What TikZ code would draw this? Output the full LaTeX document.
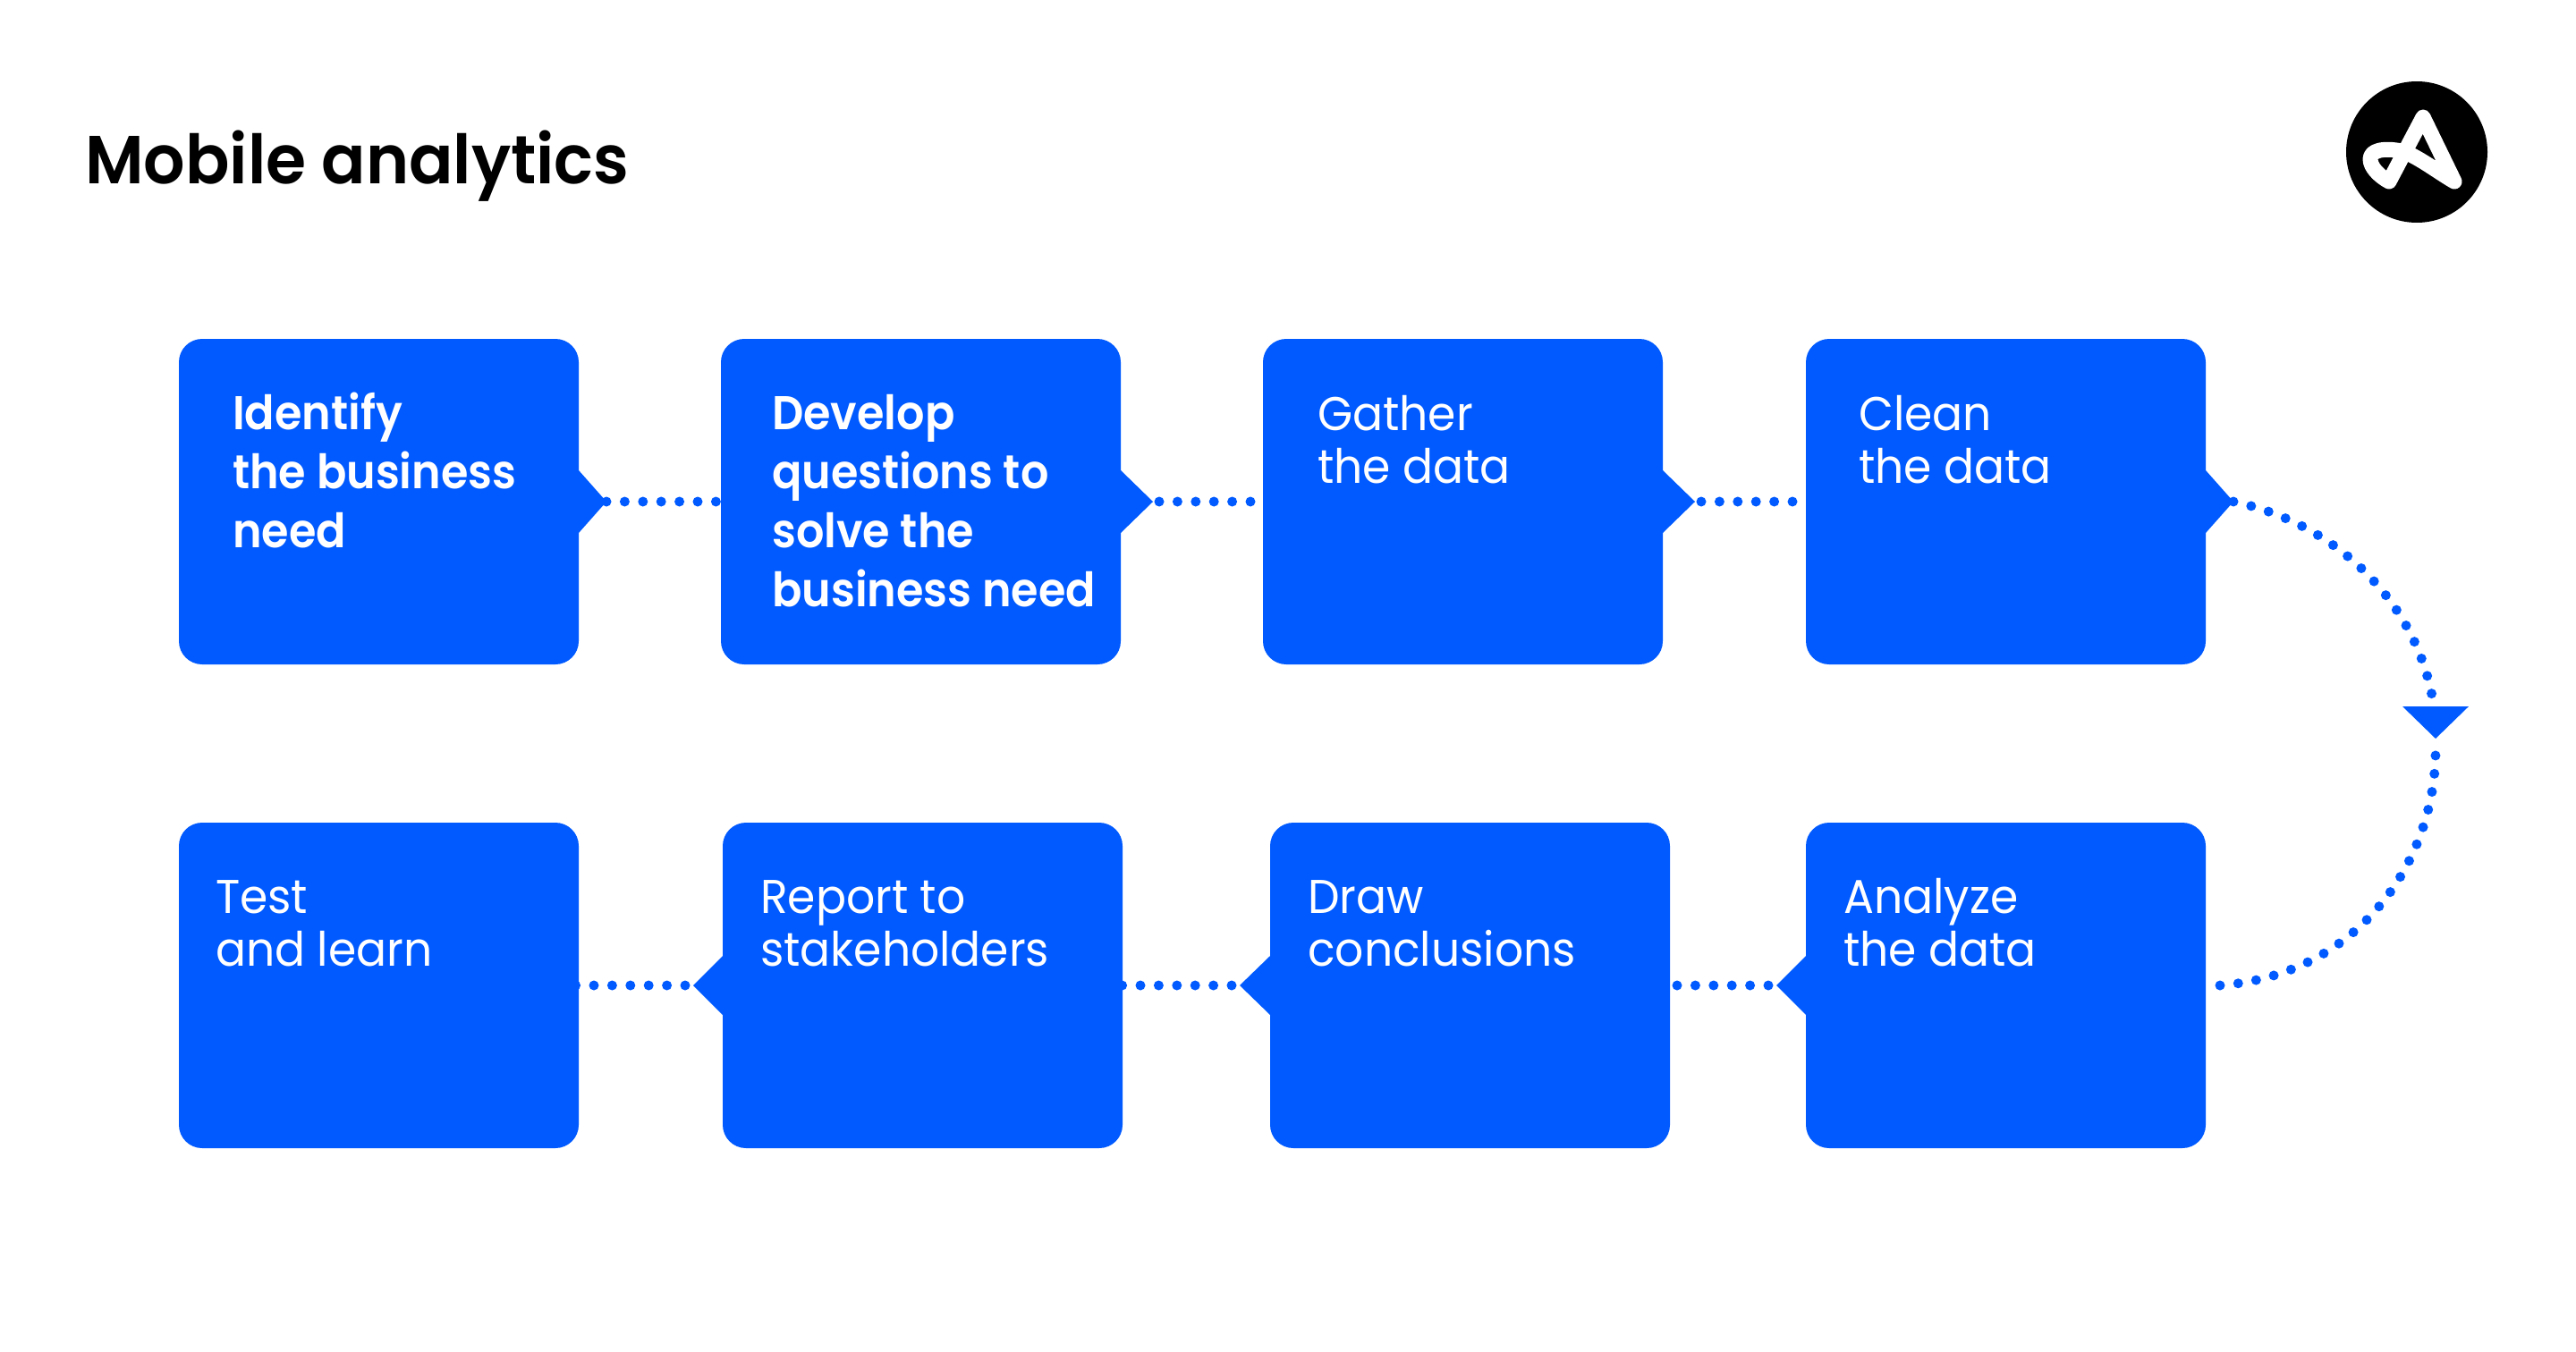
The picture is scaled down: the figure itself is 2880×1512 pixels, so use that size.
\documentclass[tikz,border=0pt]{standalone}
\usepackage{fontspec}
\setmainfont{Poppins}[FakeStretch=0.95]
\newfontfamily\regf{Poppins}[FakeStretch=0.95]
\newfontfamily\boldf{Poppins SemiBold}[FakeStretch=0.93]
\newfontfamily\titlef{Poppins SemiBold}[FakeStretch=0.96]
\definecolor{brand}{HTML}{005AFF}
\tikzset{
  box/.style={fill=brand,rounded corners=26pt,minimum width=447pt,minimum height=364pt,inner sep=0pt,outer sep=0pt,anchor=north west},
  ptr/.style={fill=brand},
  dots/.style={brand,line width=11pt,line cap=round,dash pattern=on 0pt off 20.4pt},
  reg/.style={text=white,inner sep=0pt,anchor=north west,align=left,font=\fontsize{53}{59}\regf\selectfont},
  bld/.style={text=white,inner sep=0pt,anchor=north west,align=left,font=\fontsize{53}{66}\boldf\selectfont},
}
\newcommand{\up}{\rule{0pt}{60pt}}
\begin{document}
\begin{tikzpicture}[x=1pt,y=-1pt]
\useasboundingbox (0,0) rectangle (2880,1512);
\fill[white] (0,0) rectangle (2880,1512);
\node[text=black,inner sep=0pt,anchor=north west,font=\fontsize{76}{80}\titlef\selectfont] (title) at (95,145) {\up Mobile analytics};
% logo
\node[circle,fill=black,minimum size=158pt,inner sep=0pt] (logo) at (2702,170) {};
\draw[white,line width=17pt,line cap=round,line join=round]
  (2744,203) -- (2709,131) -- (2671,203) .. controls (2660,197) and (2650,187) .. (2650,178)
  .. controls (2650,168) and (2665,165) .. (2685,169) .. controls (2702,174) and (2725,192) .. cycle;
% boxes
\node[box] (b1) at (200,379) {};
\node[box] (b2) at (806,379) {};
\node[box] (b3) at (1412,379) {};
\node[box] (b4) at (2019,379) {};
\node[box] (b5) at (2019,920) {};
\node[box] (b6) at (1420,920) {};
\node[box] (b7) at (808,920) {};
\node[box] (b8) at (200,920) {};
% pointers
\coordinate (t1) at ([xshift=31pt]b1.east);
\coordinate (t2) at ([xshift=36pt]b2.east);
\coordinate (t3) at ([xshift=36pt]b3.east);
\coordinate (t4) at ([xshift=31pt]b4.east);
\coordinate (t5) at ([xshift=-33pt]b5.west);
\coordinate (t6) at ([xshift=-34pt]b6.west);
\coordinate (t7) at ([xshift=-33pt]b7.west);
\foreach \t/\b in {t1/b1,t2/b2,t3/b3,t4/b4}
  \fill[ptr] (\t) -- ([yshift=35pt]\b.east) -- ([yshift=-35pt]\b.east) -- cycle;
\foreach \t/\b in {t5/b5,t6/b6,t7/b7}
  \fill[ptr] (\t) -- ([yshift=33pt]\b.west) -- ([yshift=-33pt]\b.west) -- cycle;
% connectors
\draw[dots] (t1) -- (b2.west);
\draw[dots] ([xshift=7pt]t2) -- (b3.west);
\draw[dots] ([xshift=7pt]t3) -- ([xshift=-3pt]b4.west);
\draw[dots] ([xshift=-9pt]t5) -- ([xshift=-5pt]b6.east);
\draw[dots] ([xshift=-9pt]t6) -- ([xshift=-5pt]b7.east);
\draw[dots] ([xshift=-9pt]t7) -- ([xshift=-5pt]b8.east);
% curve and arrowhead
\coordinate (c5) at ([xshift=16pt]b5.east);
\fill[ptr] (2686,790) -- (2760,790) -- (2723,826) -- cycle;
\draw[dots] (t4) .. controls (2610,585) and (2698,670) .. (2719,778);
\draw[dots] (c5) .. controls (2640,1090) and (2723,960) .. (2723,839);
% labels
\node[bld] (l1) at (260,420) {\up Identify\\the business\\need};
\node[bld] (l2) at (863,420) {\up Develop\\questions to\\solve the\\business need};
\node[reg] (l3) at (1473,421) {\up Gather\\the data};
\node[reg] (l4) at (2078,421) {\up Clean\\the data};
\node[reg] (l5) at (2061,961) {\up Analyze\\the data};
\node[reg] (l6) at (1462,961) {\up Draw\\conclusions};
\node[reg] (l7) at (850,961) {\up Report to\\stakeholders};
\node[reg] (l8) at (241,961) {\up Test\\and learn};
\end{tikzpicture}
\end{document}
